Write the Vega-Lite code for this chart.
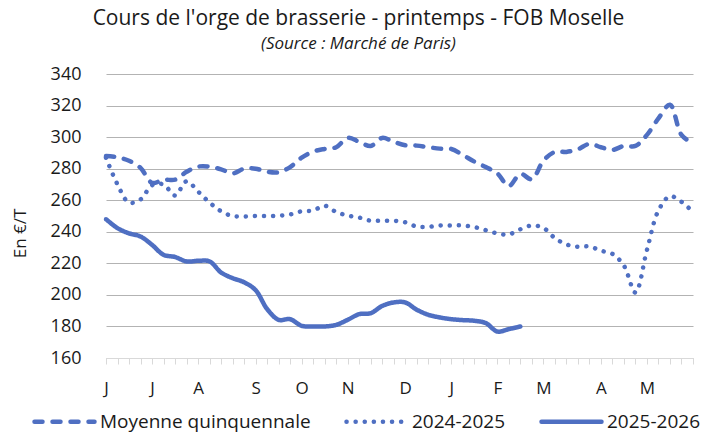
{
  "$schema": "https://vega.github.io/schema/vega-lite/v6.json",
  "width": 587,
  "height": 284,
  "autosize": {"type": "none"},
  "padding": {"left": 106, "top": 74, "right": 24, "bottom": 76},
  "background": "white",
  "config": {
    "font": "Open Sans",
    "view": {"stroke": null}
  },
  "title": {
    "text": "Cours de l'orge de brasserie - printemps - FOB Moselle",
    "subtitle": "(Source : Marché de Paris)",
    "anchor": "middle",
    "dx": -41,
    "fontSize": 21,
    "fontWeight": "normal",
    "color": "#1a1a1a",
    "subtitleFontSize": 17,
    "subtitleFontStyle": "italic",
    "subtitleColor": "#1a1a1a",
    "subtitlePadding": 7,
    "offset": 13
  },
  "data": {
    "values": [
      {"week":0,"serie":"Moyenne quinquennale","value":288},
      {"week":1,"serie":"Moyenne quinquennale","value":287.2},
      {"week":2,"serie":"Moyenne quinquennale","value":285},
      {"week":3,"serie":"Moyenne quinquennale","value":280.5},
      {"week":4,"serie":"Moyenne quinquennale","value":271},
      {"week":5,"serie":"Moyenne quinquennale","value":273},
      {"week":6,"serie":"Moyenne quinquennale","value":273},
      {"week":7,"serie":"Moyenne quinquennale","value":278},
      {"week":8,"serie":"Moyenne quinquennale","value":281.3},
      {"week":9,"serie":"Moyenne quinquennale","value":281.3},
      {"week":10,"serie":"Moyenne quinquennale","value":279.6},
      {"week":11,"serie":"Moyenne quinquennale","value":277},
      {"week":12,"serie":"Moyenne quinquennale","value":280},
      {"week":13,"serie":"Moyenne quinquennale","value":280},
      {"week":14,"serie":"Moyenne quinquennale","value":278},
      {"week":15,"serie":"Moyenne quinquennale","value":277.7},
      {"week":16,"serie":"Moyenne quinquennale","value":281},
      {"week":17,"serie":"Moyenne quinquennale","value":287},
      {"week":18,"serie":"Moyenne quinquennale","value":290.8},
      {"week":19,"serie":"Moyenne quinquennale","value":292.5},
      {"week":20,"serie":"Moyenne quinquennale","value":293.6},
      {"week":21,"serie":"Moyenne quinquennale","value":299.5},
      {"week":22,"serie":"Moyenne quinquennale","value":297},
      {"week":23,"serie":"Moyenne quinquennale","value":294.4},
      {"week":24,"serie":"Moyenne quinquennale","value":299.5},
      {"week":25,"serie":"Moyenne quinquennale","value":297},
      {"week":26,"serie":"Moyenne quinquennale","value":294.8},
      {"week":27,"serie":"Moyenne quinquennale","value":294.6},
      {"week":28,"serie":"Moyenne quinquennale","value":293.6},
      {"week":29,"serie":"Moyenne quinquennale","value":292.7},
      {"week":30,"serie":"Moyenne quinquennale","value":292.5},
      {"week":31,"serie":"Moyenne quinquennale","value":288.7},
      {"week":32,"serie":"Moyenne quinquennale","value":284.5},
      {"week":33,"serie":"Moyenne quinquennale","value":281},
      {"week":34,"serie":"Moyenne quinquennale","value":277},
      {"week":35,"serie":"Moyenne quinquennale","value":269},
      {"week":36,"serie":"Moyenne quinquennale","value":276.7},
      {"week":37,"serie":"Moyenne quinquennale","value":273.3},
      {"week":38,"serie":"Moyenne quinquennale","value":285},
      {"week":39,"serie":"Moyenne quinquennale","value":290.6},
      {"week":40,"serie":"Moyenne quinquennale","value":290.6},
      {"week":41,"serie":"Moyenne quinquennale","value":292.3},
      {"week":42,"serie":"Moyenne quinquennale","value":295.7},
      {"week":43,"serie":"Moyenne quinquennale","value":293.6},
      {"week":44,"serie":"Moyenne quinquennale","value":291.9},
      {"week":45,"serie":"Moyenne quinquennale","value":294.4},
      {"week":46,"serie":"Moyenne quinquennale","value":294.4},
      {"week":47,"serie":"Moyenne quinquennale","value":301.4},
      {"week":48,"serie":"Moyenne quinquennale","value":311.9},
      {"week":49,"serie":"Moyenne quinquennale","value":320.5},
      {"week":50,"serie":"Moyenne quinquennale","value":301.4},
      {"week":51,"serie":"Moyenne quinquennale","value":296},
      {"week":0,"serie":"2024-2025","value":287},
      {"week":1,"serie":"2024-2025","value":270},
      {"week":2,"serie":"2024-2025","value":258.5},
      {"week":3,"serie":"2024-2025","value":260.5},
      {"week":4,"serie":"2024-2025","value":269.5},
      {"week":5,"serie":"2024-2025","value":270},
      {"week":6,"serie":"2024-2025","value":263},
      {"week":7,"serie":"2024-2025","value":272},
      {"week":8,"serie":"2024-2025","value":265.5},
      {"week":9,"serie":"2024-2025","value":258.5},
      {"week":10,"serie":"2024-2025","value":253},
      {"week":11,"serie":"2024-2025","value":250},
      {"week":12,"serie":"2024-2025","value":249.7},
      {"week":13,"serie":"2024-2025","value":250},
      {"week":14,"serie":"2024-2025","value":250},
      {"week":15,"serie":"2024-2025","value":250.2},
      {"week":16,"serie":"2024-2025","value":251},
      {"week":17,"serie":"2024-2025","value":253},
      {"week":18,"serie":"2024-2025","value":253.5},
      {"week":19,"serie":"2024-2025","value":256.5},
      {"week":20,"serie":"2024-2025","value":252.5},
      {"week":21,"serie":"2024-2025","value":250.3},
      {"week":22,"serie":"2024-2025","value":249},
      {"week":23,"serie":"2024-2025","value":247},
      {"week":24,"serie":"2024-2025","value":247},
      {"week":25,"serie":"2024-2025","value":247},
      {"week":26,"serie":"2024-2025","value":246},
      {"week":27,"serie":"2024-2025","value":243.3},
      {"week":28,"serie":"2024-2025","value":243.1},
      {"week":29,"serie":"2024-2025","value":244},
      {"week":30,"serie":"2024-2025","value":244},
      {"week":31,"serie":"2024-2025","value":244},
      {"week":32,"serie":"2024-2025","value":243},
      {"week":33,"serie":"2024-2025","value":241},
      {"week":34,"serie":"2024-2025","value":239},
      {"week":35,"serie":"2024-2025","value":238.3},
      {"week":36,"serie":"2024-2025","value":241.6},
      {"week":37,"serie":"2024-2025","value":244},
      {"week":38,"serie":"2024-2025","value":242.5},
      {"week":39,"serie":"2024-2025","value":236},
      {"week":40,"serie":"2024-2025","value":232},
      {"week":41,"serie":"2024-2025","value":230.5},
      {"week":42,"serie":"2024-2025","value":230.7},
      {"week":43,"serie":"2024-2025","value":228},
      {"week":44,"serie":"2024-2025","value":226},
      {"week":45,"serie":"2024-2025","value":218.5},
      {"week":46,"serie":"2024-2025","value":201.5},
      {"week":47,"serie":"2024-2025","value":228.5},
      {"week":48,"serie":"2024-2025","value":253.5},
      {"week":49,"serie":"2024-2025","value":262.5},
      {"week":50,"serie":"2024-2025","value":259},
      {"week":51,"serie":"2024-2025","value":252.5},
      {"week":0,"serie":"2025-2026","value":248},
      {"week":1,"serie":"2025-2026","value":242.3},
      {"week":2,"serie":"2025-2026","value":239},
      {"week":3,"serie":"2025-2026","value":237},
      {"week":4,"serie":"2025-2026","value":231.7},
      {"week":5,"serie":"2025-2026","value":225.4},
      {"week":6,"serie":"2025-2026","value":224},
      {"week":7,"serie":"2025-2026","value":221.2},
      {"week":8,"serie":"2025-2026","value":221.6},
      {"week":9,"serie":"2025-2026","value":221.2},
      {"week":10,"serie":"2025-2026","value":214.2},
      {"week":11,"serie":"2025-2026","value":210.6},
      {"week":12,"serie":"2025-2026","value":208},
      {"week":13,"serie":"2025-2026","value":203},
      {"week":14,"serie":"2025-2026","value":191},
      {"week":15,"serie":"2025-2026","value":184.2},
      {"week":16,"serie":"2025-2026","value":184.6},
      {"week":17,"serie":"2025-2026","value":180.4},
      {"week":18,"serie":"2025-2026","value":180},
      {"week":19,"serie":"2025-2026","value":180},
      {"week":20,"serie":"2025-2026","value":181},
      {"week":21,"serie":"2025-2026","value":184.2},
      {"week":22,"serie":"2025-2026","value":187.8},
      {"week":23,"serie":"2025-2026","value":188.4},
      {"week":24,"serie":"2025-2026","value":193},
      {"week":25,"serie":"2025-2026","value":195.2},
      {"week":26,"serie":"2025-2026","value":195.2},
      {"week":27,"serie":"2025-2026","value":190.6},
      {"week":28,"serie":"2025-2026","value":187.4},
      {"week":29,"serie":"2025-2026","value":185.7},
      {"week":30,"serie":"2025-2026","value":184.6},
      {"week":31,"serie":"2025-2026","value":184},
      {"week":32,"serie":"2025-2026","value":183.6},
      {"week":33,"serie":"2025-2026","value":182.1},
      {"week":34,"serie":"2025-2026","value":176.8},
      {"week":35,"serie":"2025-2026","value":178.3},
      {"week":36,"serie":"2025-2026","value":180}
    ]
  },
  "mark": {"type": "line", "interpolate": "catmull-rom", "strokeWidth": 4.5, "strokeCap": "round", "strokeJoin": "round"},
  "encoding": {
    "x": {
      "field": "week",
      "type": "quantitative",
      "scale": {"domain": [0, 51], "nice": false, "zero": false},
      "axis": {
        "title": null,
        "grid": false,
        "values": [0,1,2,3,4,5,6,7,8,9,10,11,12,13,14,15,16,17,18,19,20,21,22,23,24,25,26,27,28,29,30,31,32,33,34,35,36,37,38,39,40,41,42,43,44,45,46,47,48,49,50,51],
        "labelExpr": "datum.value == 0 ? 'J' : datum.value == 4 ? 'J' : datum.value == 8 ? 'A' : datum.value == 13 ? 'S' : datum.value == 17 ? 'O' : datum.value == 21 ? 'N' : datum.value == 26 ? 'D' : datum.value == 30 ? 'J' : datum.value == 34 ? 'F' : datum.value == 38 ? 'M' : datum.value == 43 ? 'A' : datum.value == 47 ? 'M' : ''",
        "labelOverlap": false,
        "labelFlush": false,
        "labelFontSize": 17,
        "labelColor": "#1a1a1a",
        "labelPadding": 16,
        "tickSize": 6,
        "tickColor": "#d9d9d9",
        "tickWidth": 1,
        "domainColor": "#d9d9d9",
        "domainWidth": 1
      }
    },
    "y": {
      "field": "value",
      "type": "quantitative",
      "scale": {"domain": [160, 340], "nice": false, "zero": false},
      "axis": {
        "title": "En €/T",
        "titleFontSize": 17,
        "titleFontWeight": "normal",
        "titleColor": "#1a1a1a",
        "titleX": -86,
        "titleY": 159,
        "titleAngle": -90,
        "titleAlign": "center",
        "titleBaseline": "middle",
        "values": [160,180,200,220,240,260,280,300,320,340],
        "labelFontSize": 18,
        "labelColor": "#1a1a1a",
        "labelPadding": 25,
        "ticks": false,
        "domain": false,
        "gridColor": "#b3b3b3",
        "gridWidth": 1
      }
    },
    "color": {
      "field": "serie",
      "type": "nominal",
      "scale": {"domain": ["Moyenne quinquennale", "2024-2025", "2025-2026"], "range": ["#4f6fc2", "#4f6fc2", "#4f6fc2"]},
      "legend": {
        "title": null,
        "orient": "none",
        "direction": "horizontal",
        "legendX": -74,
        "legendY": 315,
        "padding": 0,
        "symbolType": "stroke",
        "symbolSize": 3600,
        "symbolStrokeWidth": 4.5,
        "labelFontSize": 19,
        "labelColor": "#1a1a1a",
        "labelOffset": 3,
        "columnPadding": 26,
        "labelLimit": 400,
        "encode": {"symbols": {"update": {"strokeCap": {"value": "round"}}}}
      }
    },
    "strokeDash": {
      "field": "serie",
      "type": "nominal",
      "scale": {"domain": ["Moyenne quinquennale", "2024-2025", "2025-2026"], "range": [[8, 10], [0.1, 9], [1, 0]]},
      "legend": {
        "title": null,
        "orient": "none",
        "direction": "horizontal",
        "legendX": -74,
        "legendY": 315,
        "padding": 0,
        "symbolType": "stroke",
        "symbolSize": 3600,
        "symbolStrokeWidth": 4.5,
        "labelFontSize": 19,
        "labelColor": "#1a1a1a",
        "labelOffset": 3,
        "columnPadding": 26,
        "labelLimit": 400,
        "encode": {"symbols": {"update": {"strokeCap": {"value": "round"}}}}
      }
    }
  }
}
